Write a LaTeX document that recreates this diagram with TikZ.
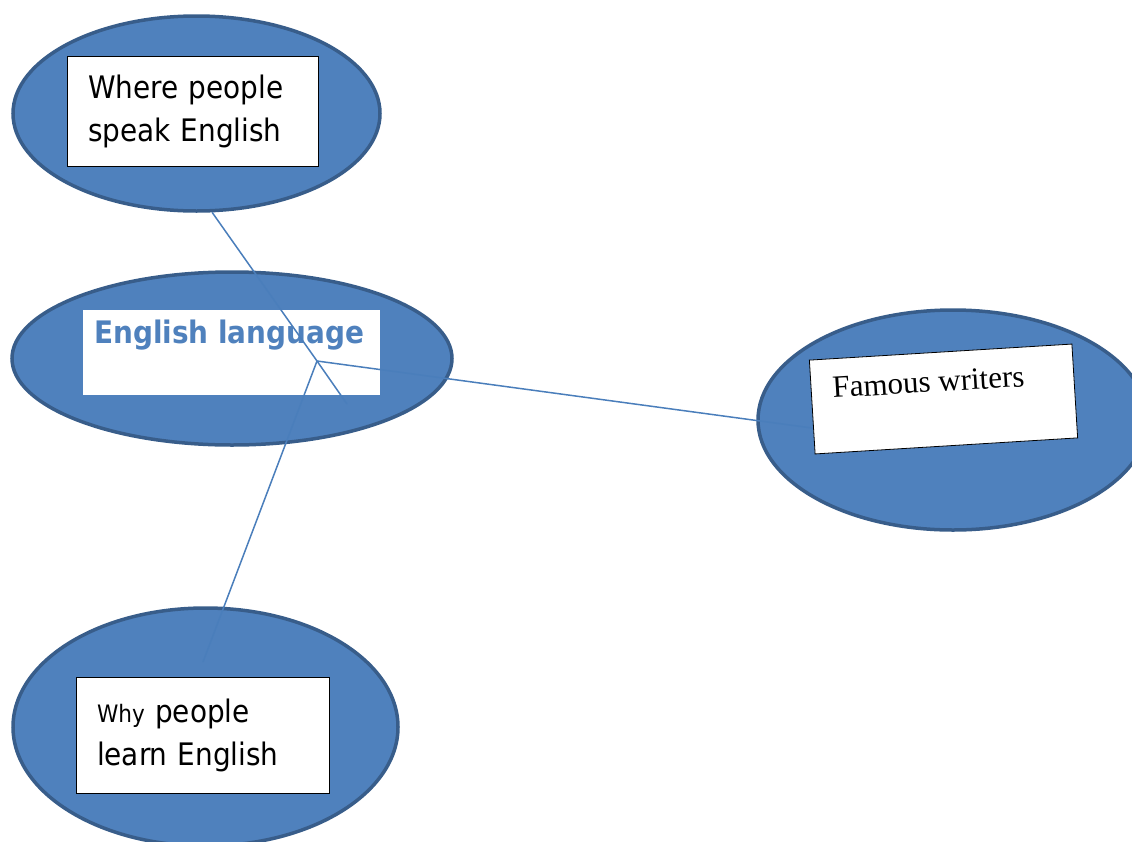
\documentclass[tikz,border=0pt]{standalone}
\usepackage{fontspec}
\newfontfamily\tahoma{DejaVu Sans Condensed}
\newfontfamily\tahomabold{DejaVu Sans Condensed Bold}
\newfontfamily\timesfont{Liberation Serif}
\usetikzlibrary{shapes.geometric}
\definecolor{bubbleBlue}{HTML}{4F81BD}
\definecolor{bubbleEdge}{HTML}{385D8A}
\definecolor{linkBlue}{HTML}{4A7EBB}
\tikzstyle{bubble} = [ellipse, inner sep=0pt, draw=bubbleEdge, line width=3.5pt, fill=bubbleBlue]
\tikzstyle{textbox} = [rectangle, draw=black, line width=0.8pt, fill=white, align=left, inner xsep=21pt, inner ysep=0pt, font=\tahoma\fontsize{31}{43}\selectfont]
\tikzstyle{link} = [linkBlue, line width=1.5pt]

\begin{document}
\begin{tikzpicture}[x=1pt, y=-1pt]
            \clip (0,0) rectangle (1132,841);
            \node (whereBubble) [bubble, minimum width=367, minimum height=195] at (196.5,113.5) {};
            \node (englishBubble) [bubble, minimum width=440, minimum height=173] at (232,358.5) {};
            \node (writersBubble) [bubble, minimum width=390, minimum height=220] at (953,420) {};
            \node (whyBubble) [bubble, minimum width=385, minimum height=238] at (205.5,727) {};

            \node (whereBox) [textbox, text width=209, minimum height=110] at (192.5,111) {Where people\\speak English};
            \node (whyBox) [textbox, text width=211, minimum height=116] at (202.5,735) {{\fontsize{24}{43}\selectfont Why} people\\learn English};
            \node (englishBox) [fill=white, minimum width=297, minimum height=85, inner sep=0pt] at (231.5,352.5) {};
            \node (englishText) [anchor=base west, inner sep=0pt, text=bubbleBlue, font=\tahomabold\fontsize{31}{36}\selectfont] at (94,343) {English language};
            \node (writersBox) [draw=black, line width=0.8pt, fill=white, rotate=3.5, minimum width=263, minimum height=94, inner sep=0pt] at (943.5,399) {};
            \node (writersText) [rotate=3.5, anchor=base west, inner sep=0pt, font=\timesfont\fontsize{31}{37}\selectfont] at (833,398) {Famous writers};

            \coordinate (hub) at (317,361);
            \coordinate (tail) at (347,404);
            \coordinate (writersEnd) at (812,428);
            \coordinate (whyEnd) at (203,662);

            \draw [link] (whereBubble.-81) -- (hub) -- (tail);
            \draw [link] (hub) -- (writersEnd);
            \draw [link] (hub) -- (whyEnd);
        \end{tikzpicture}
\end{document}
